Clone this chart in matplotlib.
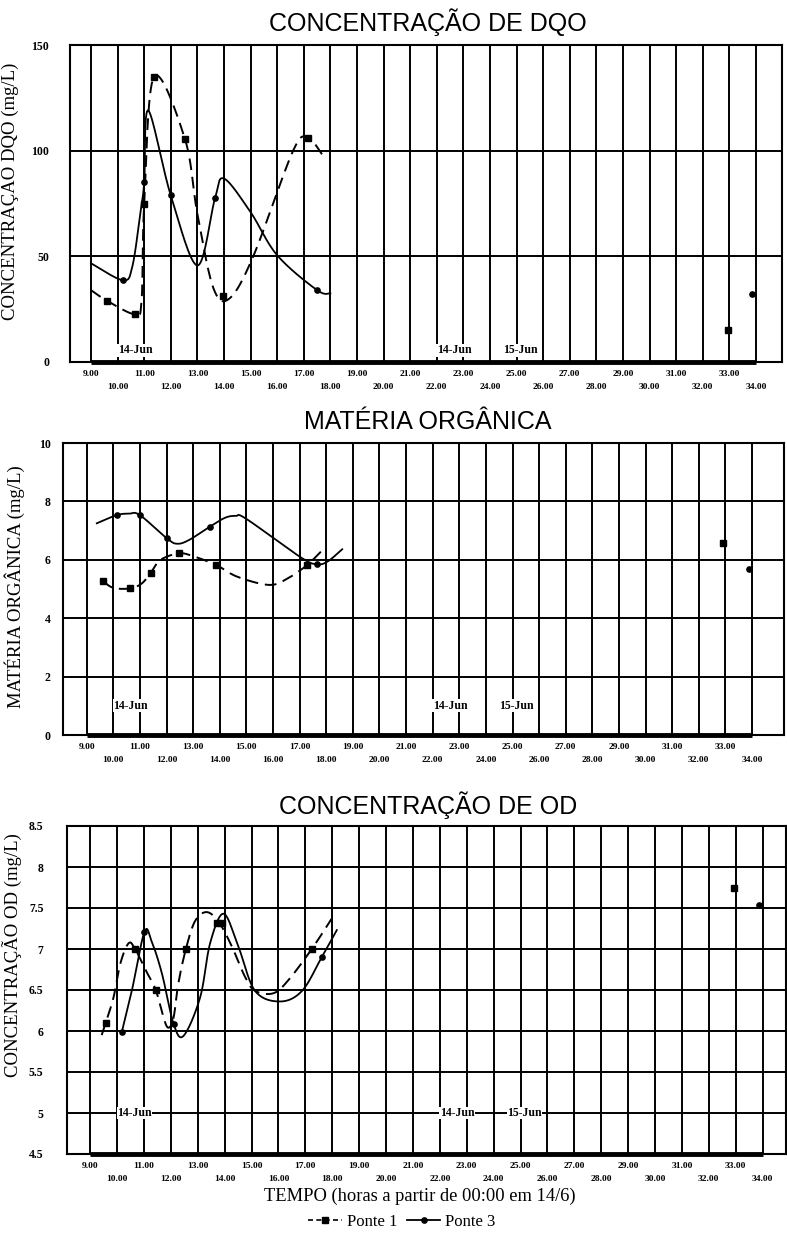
import numpy as np
import matplotlib
matplotlib.use("Agg")
import matplotlib.pyplot as plt
from matplotlib.lines import Line2D

# ---------------- data ----------------
hours_odd = list(range(9, 35, 2))
hours_even = list(range(10, 35, 2))
labels_odd = [f"{h}.00" for h in hours_odd]
labels_even = [f"{h}.00" for h in hours_even]

# DQO (mg/L)
dqo_p1_x = [9.6, 10.65, 11.0, 11.37, 12.53, 13.96, 17.16, 32.95]
dqo_p1_y = [29, 22.6, 75, 135, 105.6, 31, 106, 15]
dqo_p1_curve_x = [9.0, 9.6, 10.65, 10.9, 11.0, 11.37, 12.53, 13.0, 13.6, 14.2, 15.1, 16.6, 17.16, 17.7]
dqo_p1_curve_y = [34, 29, 22.6, 29, 75, 135, 105.6, 70, 35, 30, 50, 100, 106, 98]
dqo_p3_x = [10.2, 11.0, 12.0, 13.66, 17.5, 33.85]
dqo_p3_y = [38.7, 85, 78.8, 77.4, 34, 32]
dqo_p3_curve_x = [9.0, 10.2, 10.55, 10.85, 11.0, 11.15, 12.0, 13.0, 13.66, 14.0, 15.0, 16.0, 17.5, 18.0]
dqo_p3_curve_y = [46.7, 38.7, 45, 70, 85, 119, 78.8, 45.7, 77.4, 86.8, 70.9, 50.5, 34, 32.5]

# Materia organica (mg/L)
mo_p1_x = [9.6, 10.63, 11.41, 12.45, 13.87, 17.28, 32.9]
mo_p1_y = [5.28, 5.02, 5.56, 6.22, 5.82, 5.82, 6.58]
mo_p1_curve_x = [9.6, 10.0, 10.63, 11.07, 11.41, 11.76, 12.45, 12.98, 13.87, 14.66, 15.85, 16.55, 17.28, 17.8]
mo_p1_curve_y = [5.28, 5.04, 5.02, 5.19, 5.56, 5.99, 6.22, 6.13, 5.82, 5.42, 5.14, 5.36, 5.82, 6.28]
mo_p3_x = [10.13, 11.0, 12.02, 13.62, 17.65, 33.88]
mo_p3_y = [7.53, 7.53, 6.73, 7.13, 5.85, 5.68]
mo_p3_curve_x = [9.38, 10.13, 10.6, 11.0, 12.02, 12.4, 12.85, 13.62, 14.2, 14.6, 15.0, 17.05, 17.65, 18.05, 18.6]
mo_p3_curve_y = [7.25, 7.53, 7.58, 7.53, 6.73, 6.55, 6.68, 7.13, 7.44, 7.5, 7.4, 6.08, 5.85, 5.94, 6.36]

# OD (mg/L)
od_p1_x = [9.58, 10.67, 11.44, 12.56, 13.71, 13.9, 17.24, 32.95]
od_p1_y = [6.1, 7.0, 6.5, 7.0, 7.32, 7.32, 7.0, 7.75]
od_p1_curve_x = [9.43, 9.58, 9.87, 10.12, 10.43, 10.67, 11.1, 11.44, 11.73, 11.91, 12.1, 12.28, 12.56, 12.9,
                 13.34, 13.8, 14.27, 14.76, 15.13, 15.81, 16.37, 17.24, 17.98]
od_p1_curve_y = [5.95, 6.1, 6.41, 6.82, 7.07, 7.0, 6.72, 6.5, 6.16, 6.04, 6.16, 6.58, 7.0, 7.34,
                 7.45, 7.32, 7.03, 6.66, 6.49, 6.46, 6.62, 7.0, 7.37]
od_p3_x = [10.18, 11.02, 12.1, 17.61, 33.87]
od_p3_y = [5.99, 7.21, 6.09, 6.9, 7.54]
od_p3_curve_x = [10.18, 10.55, 11.02, 11.29, 11.67, 12.1, 12.47, 13.09, 13.46, 13.96, 14.51, 15.13, 16.06,
                 16.88, 17.61, 18.17]
od_p3_curve_y = [5.99, 6.49, 7.21, 7.09, 6.7, 6.09, 5.94, 6.41, 7.07, 7.43, 7.03, 6.49, 6.36,
                 6.49, 6.9, 7.23]

date_labels = ["14-Jun", "14-Jun", "15-Jun"]
date_label_x = [10.0, 22.0, 24.5]

SERIF = ["Liberation Serif", "DejaVu Serif"]
SANS = ["Liberation Sans", "DejaVu Sans"]


def smooth(xs, ys, n=40):
    P = np.column_stack([xs, ys]).astype(float)
    out = []
    for i in range(len(P) - 1):
        p0 = P[i - 1] if i > 0 else P[i]
        p1 = P[i]
        p2 = P[i + 1]
        p3 = P[i + 2] if i + 2 < len(P) else P[i + 1]
        c1 = p1 + (p2 - p0) / 6.0
        c2 = p2 - (p3 - p1) / 6.0
        t = np.linspace(0, 1, n)[:, None]
        seg = (1 - t) ** 3 * p1 + 3 * (1 - t) ** 2 * t * c1 + 3 * (1 - t) * t ** 2 * c2 + t ** 3 * p2
        out.append(seg if i == 0 else seg[1:])
    s = np.vstack(out)
    return s[:, 0], s[:, 1]


fig = plt.figure(figsize=(7.87, 12.36), dpi=100)
W, H = 787.0, 1236.0


def make_axes(l, r, t, b):
    return fig.add_axes([l / W, 1 - b / H, (r - l) / W, (b - t) / H])


def style_axes(ax, xlim, ylim, yticks, ytick_fmt, ypad, date_y):
    ax.set_xlim(*xlim)
    ax.set_ylim(*ylim)
    ax.set_xticks(hours_odd)
    ax.set_xticklabels(labels_odd)
    ax.set_xticks(hours_even, minor=True)
    ax.set_xticklabels(labels_even, minor=True)
    ax.set_yticks(yticks)
    ax.set_yticklabels([ytick_fmt(v) for v in yticks])
    ax.tick_params(axis="x", which="major", length=0, pad=6, labelsize=6.8)
    ax.tick_params(axis="x", which="minor", length=0, pad=15, labelsize=6.8)
    ax.tick_params(axis="y", length=0, pad=ypad, labelsize=8.5)
    for lab in ax.get_xticklabels(which="both") + ax.get_yticklabels():
        lab.set_fontfamily(SERIF)
        lab.set_fontweight("bold")
    ax.grid(True, which="both", axis="x", color="black", lw=1.4)
    ax.grid(True, which="major", axis="y", color="black", lw=1.4)
    ax.set_axisbelow(True)
    for sp in ax.spines.values():
        sp.set_color("black")
        sp.set_linewidth(1.5)
    ax.plot([9, 34], [ylim[0], ylim[0]], color="black", lw=3.5, solid_capstyle="butt",
            clip_on=False, zorder=3)
    for lbl, xv in zip(date_labels, date_label_x):
        ax.text(xv, date_y, lbl, fontfamily=SERIF, fontweight="bold", fontsize=8.5,
                ha="left", va="center", zorder=4,
                bbox=dict(facecolor="white", edgecolor="none", pad=0.3))


def draw_series(ax, cx, cy, mx, my, dashed, marker, ms):
    sx, sy = smooth(cx, cy)
    if dashed:
        ax.plot(sx, sy, color="black", lw=1.4, linestyle=(0, (6, 3.5)), zorder=5)
    else:
        ax.plot(sx, sy, color="black", lw=1.3, zorder=5)
    ax.plot(mx, my, linestyle="none", marker=marker, color="black", ms=ms, zorder=6)


# ---- top: DQO ----
ax1 = make_axes(70, 782, 45, 362)
style_axes(ax1, (8.21, 34.98), (0, 150), [0, 50, 100, 150], lambda v: f"{v:d}", 15, 5.5)
draw_series(ax1, dqo_p1_curve_x, dqo_p1_curve_y, dqo_p1_x, dqo_p1_y, True, "s", 5)
draw_series(ax1, dqo_p3_curve_x, dqo_p3_curve_y, dqo_p3_x, dqo_p3_y, False, "o", 3.8)
ax1.set_ylabel("CONCENTRAÇÃO DQO (mg/L)", fontfamily=SERIF, fontsize=13.5)
ax1.yaxis.set_label_coords(-0.072, 0.54)
fig.text(428 / W, 1 - 22 / H, "CONCENTRAÇÃO DE DQO", fontfamily=SANS, fontsize=18,
         ha="center", va="center")

# ---- middle: Materia organica ----
ax2 = make_axes(63, 784, 443, 735)
style_axes(ax2, (8.11, 35.2), (0, 10), [0, 2, 4, 6, 8, 10], lambda v: f"{v:d}", 9, 1.0)
draw_series(ax2, mo_p1_curve_x, mo_p1_curve_y, mo_p1_x, mo_p1_y, True, "s", 5)
draw_series(ax2, mo_p3_curve_x, mo_p3_curve_y, mo_p3_x, mo_p3_y, False, "o", 3.8)
ax2.set_ylabel("MATÉRIA ORGÂNICA (mg/L)", fontfamily=SERIF, fontsize=13.5)
ax2.yaxis.set_label_coords(-0.053, 0.507)
fig.text(428 / W, 1 - 422 / H, "MATÉRIA ORGÂNICA", fontfamily=SANS, fontsize=18,
         ha="center", va="center")

# ---- bottom: OD ----
ax3 = make_axes(67, 786, 826, 1154)
style_axes(ax3, (8.14, 34.87), (4.5, 8.5), [4.5, 5, 5.5, 6, 6.5, 7, 7.5, 8, 8.5],
           lambda v: f"{v:g}", 17, 5.0)
draw_series(ax3, od_p1_curve_x, od_p1_curve_y, od_p1_x, od_p1_y, True, "s", 5)
draw_series(ax3, od_p3_curve_x, od_p3_curve_y, od_p3_x, od_p3_y, False, "o", 3.8)
ax3.set_ylabel("CONCENTRAÇÃO OD (mg/L)", fontfamily=SERIF, fontsize=13.5)
ax3.yaxis.set_label_coords(-0.063, 0.607)
fig.text(428 / W, 1 - 805 / H, "CONCENTRAÇÃO DE OD", fontfamily=SANS, fontsize=18,
         ha="center", va="center")

fig.text(420 / W, 1 - 1196 / H, "TEMPO (horas a partir de 00:00 em 14/6)", fontfamily=SERIF,
         fontsize=13.3, ha="center", va="center")

handles = [
    Line2D([], [], color="black", lw=1.2, linestyle=(0, (3, 2)), marker="s", ms=4.5),
    Line2D([], [], color="black", lw=1.3, marker="o", ms=3.8),
]
fig.legend(handles, ["Ponte 1", "Ponte 3"], loc="center", bbox_to_anchor=(402 / W, 1 - 1222 / H),
           ncol=2, frameon=False, prop={"family": SERIF, "size": 12},
           handlelength=2.0, handletextpad=0.3, columnspacing=0.6)

fig.savefig("out.png", dpi=100)
